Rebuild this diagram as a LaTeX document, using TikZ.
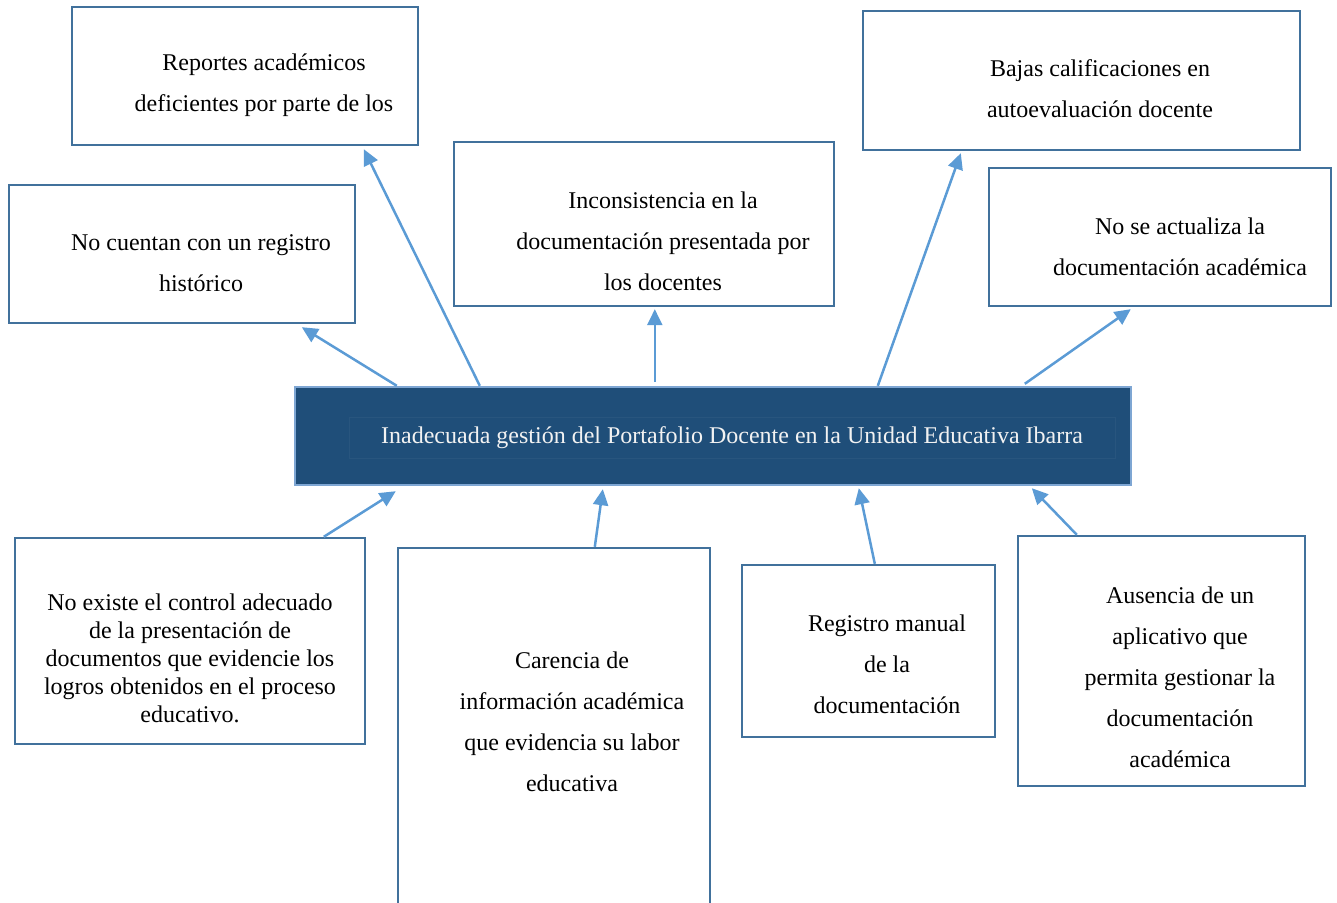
\documentclass[tikz,border=0pt]{standalone}
\usepackage{fontspec}
\setmainfont{Liberation Serif}
\usepackage{tikz}
\usetikzlibrary{
  calc,        % offsets from node corners
  fit,         % boxes fitted to corner points
  arrows.meta  % triangle tips
}

\definecolor{borde}{HTML}{41719C}
\definecolor{flechaazul}{HTML}{5B9BD5}
\definecolor{fondo}{HTML}{1F4E79}
\definecolor{bordeclaro}{HTML}{7EA6D3}

\tikzset{
  caja/.style={draw=borde, line width=1.2pt, inner sep=0pt},
  texto/.style={align=center, font=\rmfamily\fontsize{12}{20.5}\selectfont},
  flecha/.style={draw=flechaazul, line width=1.25pt, -{Triangle[length=8pt,width=7.5pt]}}
}

\begin{document}
\begin{tikzpicture}[x=0.5pt, y=-0.5pt]
  \useasboundingbox (0,0) rectangle (1337,903);

  % Central problem
  \node[caja, draw=bordeclaro, fill=fondo, fit={(295,387) (1131,485)}] (prob) {};
  \node[texto, text=white!95!black, draw=fondo!96!white, line width=0.4pt,
        minimum width=383pt, minimum height=20.5pt] (prob-t) at (732,438)
        {Inadecuada gestión del Portafolio Docente en la Unidad Educativa Ibarra};

  % Effects (top)
  \node[caja, fit={(72,7) (418,145)}] (rep) {};
  \node[texto] (rep-t) at (264,85) {Reportes académicos\\deficientes por parte de los};

  \node[caja, fit={(9,185) (355,323)}] (cuen) {};
  \node[texto] (cuen-t) at (201,263) {No cuentan con un registro\\histórico};

  \node[caja, fit={(454,142) (834,306)}] (inc) {};
  \node[texto] (inc-t) at (663,241) {Inconsistencia en la\\documentación presentada por\\los docentes};

  \node[caja, fit={(863,11) (1300,150)}] (baj) {};
  \node[texto] (baj-t) at (1100,89) {Bajas calificaciones en\\autoevaluación docente};

  \node[caja, fit={(989,168) (1331,306)}] (act) {};
  \node[texto] (act-t) at (1180,247) {No se actualiza la\\documentación académica};

  % Causes (bottom)
  \node[caja, fit={(15,538) (365,744)}] (exi) {};
  \node[texto, font=\rmfamily\fontsize{12}{14}\selectfont] (exi-t) at (190,658)
        {No existe el control adecuado\\de la presentación de\\documentos que evidencie los\\logros obtenidos en el proceso\\educativo.};

  \node[caja, fit={(398,548) (710,912)}] (car) {};
  \node[texto] (car-t) at (572,722) {Carencia de\\información académica\\que evidencia su labor\\educativa};

  \node[caja, fit={(742,565) (995,737)}] (reg) {};
  \node[texto] (reg-t) at (887,664) {Registro manual\\de la\\documentación};

  \node[caja, fit={(1018,536) (1305,786)}] (aus) {};
  \node[texto] (aus-t) at (1180,677) {Ausencia de un\\aplicativo que\\permita gestionar la\\documentación\\académica};

  % Arrows to the effects
  \draw[flecha] ($(prob.north west)+(103,0)$) -- ($(cuen.south west)+(294,3)$);
  \draw[flecha] ($(prob.north west)+(186,0)$) -- ($(rep.south west)+(293,3)$);
  \draw[flecha] ($(prob.north west)+(361,-4)$) -- ($(inc.south west)+(202,2)$);
  \draw[flecha] ($(prob.north west)+(584,0)$) -- ($(baj.south west)+(99,2)$);
  \draw[flecha] ($(prob.north west)+(731,-2)$) -- ($(act.south west)+(143,2)$);

  % Arrows from the causes
  \draw[flecha] ($(exi.north west)+(310,0)$) -- ($(prob.south west)+(102,5)$);
  \draw[flecha] ($(car.north west)+(198,0)$) -- ($(prob.south west)+(309,3)$);
  \draw[flecha] ($(reg.north west)+(134,0)$) -- ($(prob.south west)+(565,2)$);
  \draw[flecha] ($(aus.north west)+(60,0)$) -- ($(prob.south west)+(738,2)$);
\end{tikzpicture}
\end{document}
